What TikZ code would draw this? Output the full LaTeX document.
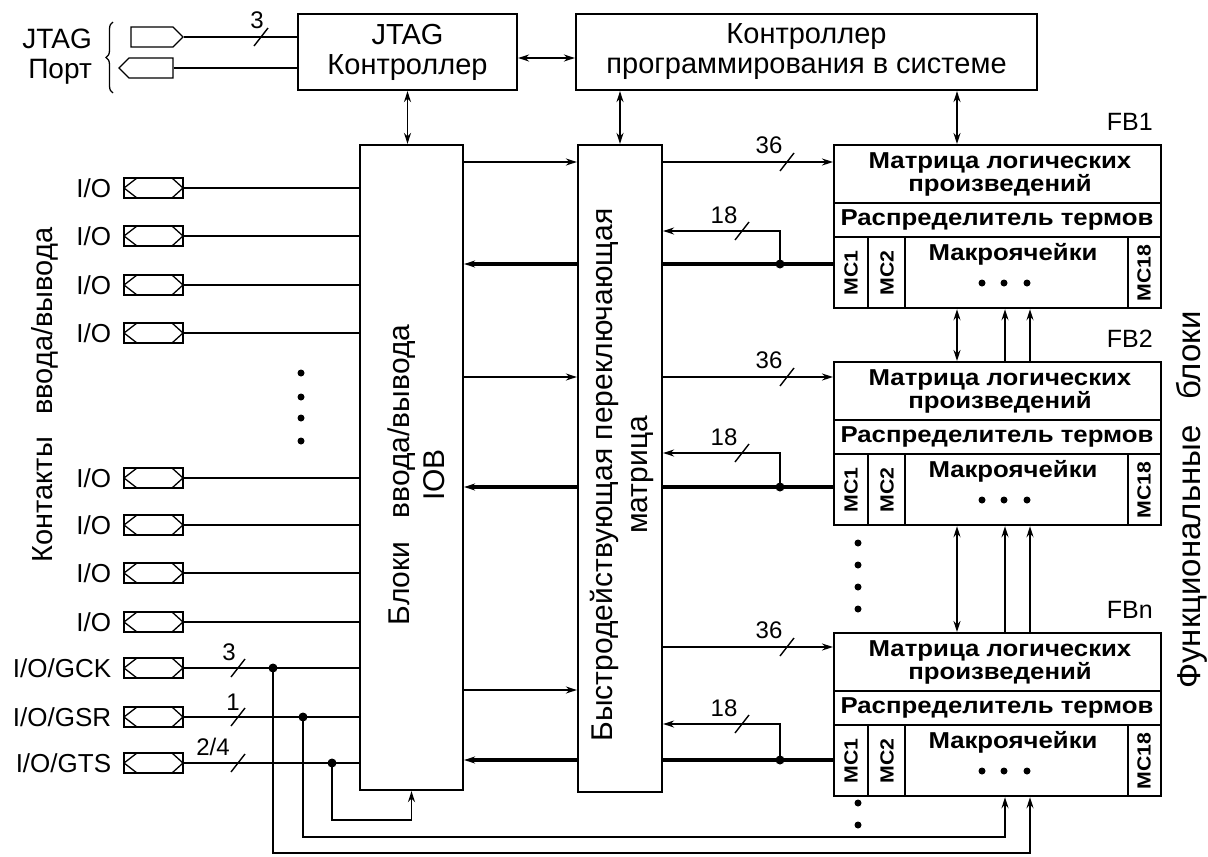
\documentclass[tikz,border=0pt]{standalone}
\usepackage{fontspec}
\setmainfont{Liberation Sans}
\newfontfamily\fbfont{Liberation Sans}[FakeStretch=1.12]
\usetikzlibrary{arrows.meta,shapes.symbols,decorations.pathreplacing}
\tikzset{
  ln/.style={line width=1.6pt},
  thk/.style={line width=3.5pt},
  tx/.style={font=\fontsize{26}{30}\selectfont},
  box/.style={draw, line width=2.2pt, inner sep=0pt, align=center, font=\fontsize{29}{30}\selectfont},
  fbbox/.style={draw, line width=2.2pt, inner sep=0pt, minimum width=327pt, minimum height=163pt},
  fbt/.style={font=\fbfont\bfseries\fontsize{23}{23}\selectfont, inner sep=0pt, align=center},
  mct/.style={font=\fbfont\bfseries\fontsize{19}{20}\selectfont, inner sep=0pt, rotate=90},
  arr/.style={-{Stealth[length=11pt,width=7pt]}},
  darr/.style={{Stealth[length=11pt,width=7pt]}-{Stealth[length=11pt,width=7pt]}},
  lab/.style={tx, anchor=east, inner sep=0pt},
  sig/.style={draw, line width=1.4pt, shape=signal, minimum height=20pt, inner sep=0pt},
  pin/.style={draw, line width=1.4pt, minimum width=59pt, minimum height=20pt, inner sep=0pt,
    path picture={\draw[line width=1.3pt] (path picture bounding box.west)
      -- ([xshift=13pt]path picture bounding box.north west)
      -- ([xshift=-11pt]path picture bounding box.north east)
      -- (path picture bounding box.east)
      -- ([xshift=-11pt]path picture bounding box.south east)
      -- ([xshift=13pt]path picture bounding box.south west) -- cycle;}},
  pics/bmark/.style={code={\draw[line width=1.4pt] (-7,9) -- (7,-9);}},
  bnum/.style={inner sep=0pt, font=\fontsize{24}{26}\selectfont}
}
\begin{document}
\begin{tikzpicture}[x=1pt,y=-1pt]
\useasboundingbox (0,0) rectangle (1208,857);
\fill[white] (0,0) rectangle (1208,857);

% ---------- top row ----------
\node[anchor=east, inner sep=0pt, align=right, font=\fontsize{28}{30}\selectfont] (jtaglab) at (92,57) {JTAG\\Порт};
\draw[line width=1.3pt, decorate, decoration={brace,amplitude=7pt}] (113,93) -- (113,22);
\node[sig, signal to=east, minimum width=52pt] (jo) at (152,37) {};
\node[sig, signal to=west, minimum width=54pt] (ji) at (151,68) {};

\node[box, minimum width=219pt, minimum height=76pt] (jtag) at (407.5,52) {JTAG\\Контроллер};
\node[box, minimum width=461pt, minimum height=76pt] (isp) at (806.5,52) {Контроллер\\программирования в системе};

\draw[ln] (jo.east) -- (jo.east -| jtag.west);
\draw[ln] (ji.east) -- (ji.east -| jtag.west);
\pic at (261,37) {bmark};
\node[bnum] at (257,20) {3};
\draw[ln,darr] ([yshift=-6pt]jtag.east) -- ([yshift=-6pt]isp.west);

% ---------- main blocks ----------
\node[box, minimum width=103pt, minimum height=645pt] (iob) at (411.5,467.5) {};
\node[rotate=90, align=center, inner sep=0pt, font=\fontsize{30}{35}\selectfont] at (416,475) {Блоки\hspace{0.5em} ввода/вывода\\IOB};
\node[box, minimum width=84pt, minimum height=647pt] (mtx) at (620,468.5) {};
\node[rotate=90, align=center, inner sep=0pt, font=\fontsize{30}{35}\selectfont] at (622,475) {Быстродействующая переключающая\\матрица};

\coordinate (c957) at (957,0);
\coordinate (u1) at (1005,0);
\coordinate (u2) at (1030,0);

\draw[ln,darr] (jtag.south) -- (jtag.south |- iob.north);
\draw[ln,darr] (mtx.north |- isp.south) -- (mtx.north);

% ---------- functional blocks ----------
\foreach \n/\t/\l in {fb1/144/FB1, fb2/361/FB2, fbn/632/FBn}{
  \node[fbbox, anchor=north west] (\n) at (833,\t) {};
  \draw[ln] (833,\t+59) -- (1160,\t+59);
  \draw[ln] (833,\t+93) -- (1160,\t+93);
  \draw[ln] (868,\t+93) -- (868,\t+163);
  \draw[ln] (905,\t+93) -- (905,\t+163);
  \draw[ln] (1128,\t+93) -- (1128,\t+163);
  \node[fbt] at (1000,\t+30) {Матрица логических\\произведений};
  \node[fbt] at (997,\t+76) {Распределитель термов};
  \node[fbt] at (1013,\t+110) {Макроячейки};
  \foreach \x in {982,1004,1027} \fill (\x,\t+139) circle[radius=3.5pt];
  \node[mct] at (851,\t+129) {MC1};
  \node[mct] at (887,\t+129) {MC2};
  \node[mct] at (1144,\t+129) {MC18};
  \node[anchor=east, inner sep=0pt, font=\fontsize{25}{26}\selectfont] at (1153,\t-22) {\l};
}
\draw[ln,darr] (isp.south -| c957) -- (fb1.north -| c957);

\foreach \u/\d in {fb1/fb2, fb2/fbn}{
  \draw[ln,darr] (\u.south -| c957) -- (\d.north -| c957);
  \draw[ln,arr] (\d.north -| u1) -- (\u.south -| u1);
  \draw[ln,arr] (\d.north -| u2) -- (\u.south -| u2);
}

\foreach \n/\a/\b/\c in {fb1/162/231/264, fb2/377/453/487, fbn/647/724/760}{
  \draw[ln,arr] (mtx.east |- 0,\a) -- (\n.west |- 0,\a);
  \draw[thk] (\n.west |- 0,\c) -- (mtx.east |- 0,\c);
  \fill (780,\c) circle[radius=4.5pt];
  \draw[ln,arr] (780,\c) -- (780,\b) -- (mtx.east |- 0,\b);
  \pic at (787,\a) {bmark};
  \node[bnum] at (769,\a-17) {36};
  \pic at (742,\b) {bmark};
  \node[bnum] at (724,\b-16) {18};
}

\foreach \y in {162,377,690} \draw[ln,arr] (iob.east |- 0,\y) -- (mtx.west |- 0,\y);
\foreach \y in {264,487,760} \draw[thk,arr] (mtx.west |- 0,\y) -- (iob.east |- 0,\y);

% ---------- pins ----------
\foreach \i/\y in {1/188,2/236,3/285,4/333,5/478,6/525,7/573,8/622,9/668,10/717,11/763}{
  \node[pin] (p\i) at (153.5,\y) {};
  \draw[ln] (p\i.east) -- (p\i.east -| iob.west);
}
\foreach \i in {1,...,8} \node[lab] at ([xshift=-12pt]p\i.west) {I/O};
\node[lab] at ([xshift=-12pt]p9.west) {I/O/GCK};
\node[lab] at ([xshift=-12pt]p10.west) {I/O/GSR};
\node[lab] at ([xshift=-12pt]p11.west) {I/O/GTS};

\pic at (238,668) {bmark};  \node[bnum] at (229,652) {3};
\pic at (238,717) {bmark};  \node[bnum] at (233,702) {1};
\pic at (238,763) {bmark};  \node[bnum] at (213,747) {2/4};

\coordinate (j9) at (273,668);
\coordinate (j10) at (303,717);
\coordinate (j11) at (332,763);
\foreach \j in {j9,j10,j11} \fill (\j) circle[radius=4.5pt];
\draw[ln,arr] (j11) -- (j11 |- 0,820) -| (iob.south);
\draw[ln,arr] (j10) -- (j10 |- 0,837) -| (u1 |- fbn.south);
\draw[ln,arr] (j9) -- (j9 |- 0,853) -| (u2 |- fbn.south);

% ---------- ellipsis dots ----------
\foreach \y in {373,397,418,441} \fill (301,\y) circle[radius=3.5pt];
\foreach \y in {543,565,587,609,803,825} \fill (858,\y) circle[radius=3.5pt];

% ---------- side captions ----------
\node[rotate=90, inner sep=0pt, font=\fontsize{29}{30}\selectfont] (lcap) at (45,395) {Контакты\hspace{0.5em} ввода/вывода};
\node[rotate=90, inner sep=0pt, font=\fontsize{33}{34}\selectfont] (rcap) at (1192,500) {Функциональные\hspace{0.5em} блоки};
\end{tikzpicture}
\end{document}
